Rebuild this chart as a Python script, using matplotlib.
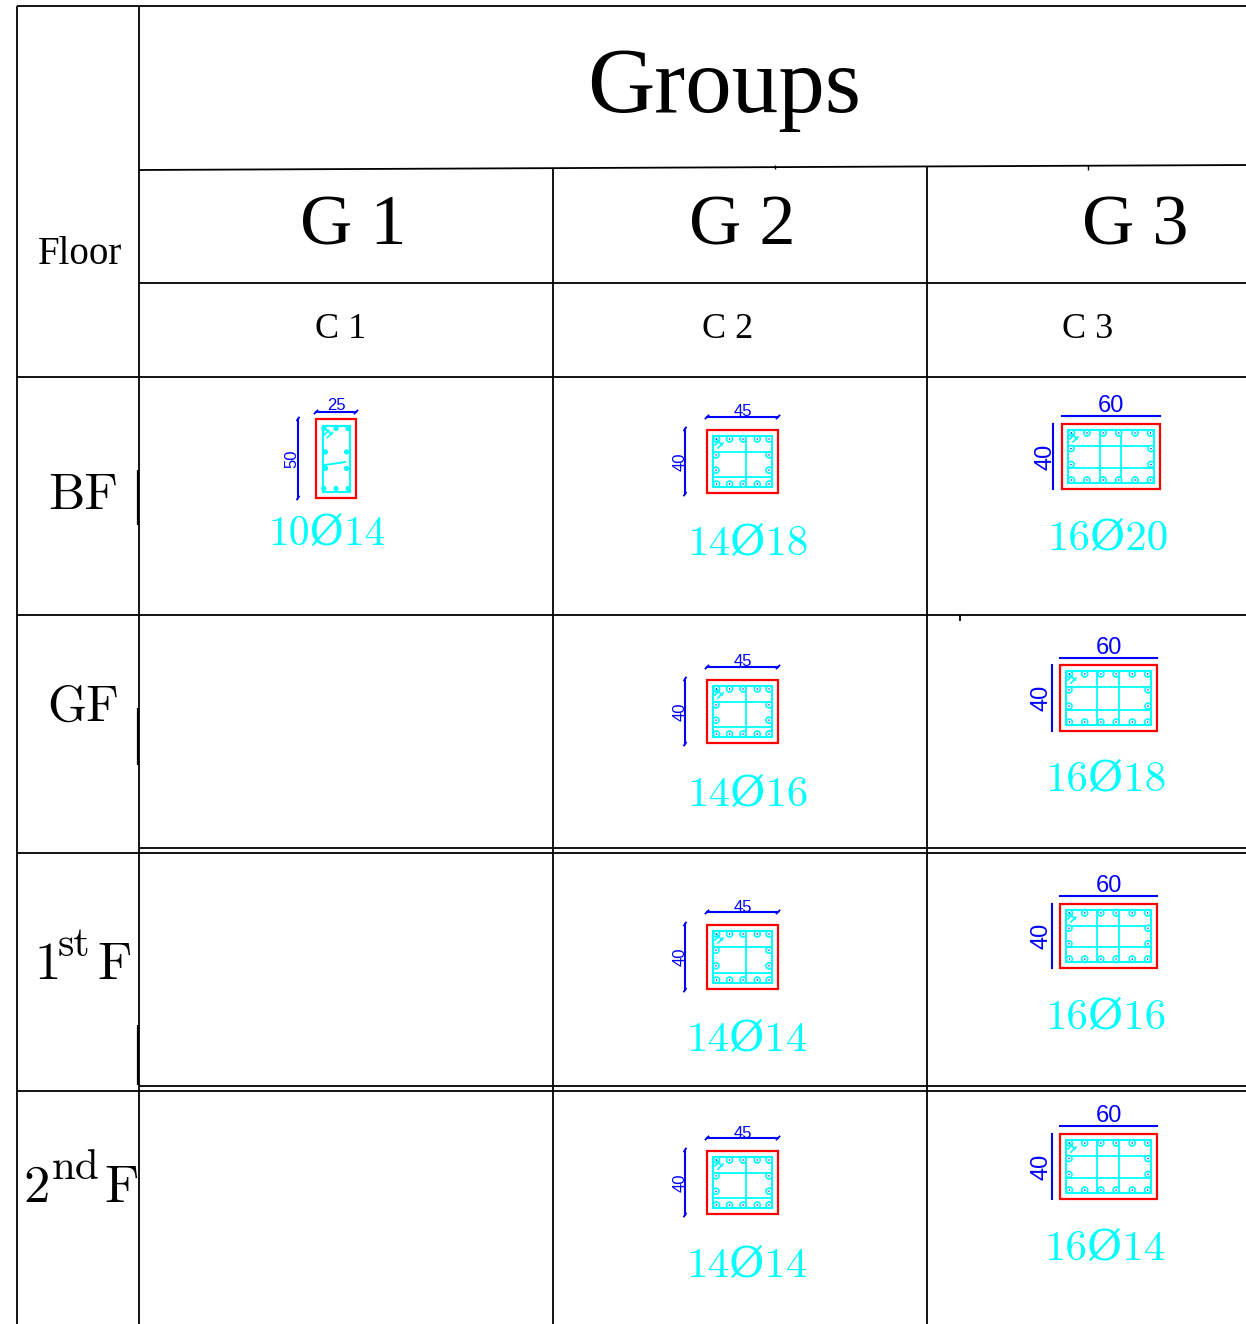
import matplotlib
matplotlib.use('Agg')
from matplotlib import pyplot as plt
from matplotlib.patches import Rectangle, Circle

# Table text
floors = ['BF', 'GF', '1', '2']
floorSup = ['', '', 'st', 'nd']
groups = ['G 1', 'G 2', 'G 3']
columns = ['C 1', 'C 2', 'C 3']

# Reinforcement labels
rebarC1 = ['10Ø14']
rebarC2 = ['14Ø18', '14Ø16', '14Ø14', '14Ø14']
rebarC3 = ['16Ø20', '16Ø18', '16Ø16', '16Ø14']

# Section sizes, cm
sizeC1 = (25, 50)
sizeC2 = (45, 40)
sizeC3 = (60, 40)

# Red outline of every section: left, top, right, bottom in image pixels
boxesC1 = [(316, 419, 356, 498)]
boxesC2 = [(707, 430, 778, 493), (707, 680, 778, 743), (707, 925, 778, 989), (707, 1151, 778, 1214)]
boxesC3 = [(1062, 424, 1160, 489), (1060, 665, 1157, 731), (1060, 904, 1157, 968), (1060, 1134, 1157, 1199)]
labelC2 = [(748, 544), (748, 795), (747, 1040), (747, 1266)]
labelC3 = [(1108, 539), (1106, 780), (1106, 1018), (1105, 1249)]

BLUE = '#0000ff'
CYAN = '#00ffff'
RED = '#ff0000'
SERIF = 'Liberation Serif'
ROMAN = ['cmr10', 'DejaVu Serif']

fig = plt.figure(figsize=(12.46, 13.24), dpi=100)
ax = fig.add_axes([0, 0, 1, 1])
ax.set_xlim(0, 1246)
ax.set_ylim(1324, 0)
ax.axis('off')


def Rule(x0, y0, x1, y1, lw=1.3):
    ax.plot([x0, x1], [y0, y1], color='black', lw=lw, solid_capstyle='butt')


# Grid of the table
Rule(17, 6, 1246, 6)
Rule(17, 6, 17, 1324)
Rule(139, 6, 139, 1324)
Rule(553, 168, 553, 1324)
Rule(927, 166, 927, 1324)
Rule(139, 170, 1246, 165)
Rule(139, 283, 1246, 283)
Rule(17, 377, 1246, 377)
Rule(17, 615, 927, 615)
Rule(927, 615, 1246, 615)
Rule(139, 848, 1246, 848)
Rule(17, 853, 1246, 853)
Rule(139, 1086, 1246, 1086)
Rule(17, 1091, 1246, 1091)

# Small scan leftovers on the rules
Rule(138, 470, 138, 525, lw=1.6)
Rule(138, 708, 138, 765, lw=1.6)
Rule(138, 1025, 138, 1085, lw=1.6)
Rule(960, 615, 960, 621, lw=1.3)
Rule(775, 165, 775, 169, lw=1)
Rule(1088, 165, 1088, 170, lw=1)

ax.text(724, 89, 'Groups', family=SERIF, fontsize=67, ha='center', va='center')
ax.text(80, 254, 'Floor', family=SERIF, fontsize=28, ha='center', va='center')
for name, x in zip(groups, [353, 742, 1135]):
    ax.text(x, 227, name, family=SERIF, fontsize=52, ha='center', va='center')
for name, x in zip(columns, [341, 728, 1088]):
    ax.text(x, 330, name, family=SERIF, fontsize=26, ha='center', va='center')

# Floor labels
ax.text(83, 509, floors[0], family=ROMAN, fontsize=37, ha='center', va='baseline')
ax.text(83, 721, floors[1], family=ROMAN, fontsize=36, ha='center', va='baseline')
ax.text(34, 979, floors[2], family=ROMAN, fontsize=38, ha='left', va='baseline')
ax.text(58, 956, floorSup[2], family=ROMAN, fontsize=30, ha='left', va='baseline')
ax.text(97, 979, 'F', family=ROMAN, fontsize=38, ha='left', va='baseline')
ax.text(23, 1202, floors[3], family=ROMAN, fontsize=38, ha='left', va='baseline')
ax.text(52, 1179, floorSup[3], family=ROMAN, fontsize=31, ha='left', va='baseline')
ax.text(104, 1202, 'F', family=ROMAN, fontsize=38, ha='left', va='baseline')


def Section(box, barsX, barsY, tiesX, tiesY, inset=6, radius=3.0, fill=False):
    left, top, right, bottom = box
    ax.add_patch(Rectangle((left, top), right - left, bottom - top, fill=False, ec=RED, lw=1.6, zorder=4))

    # Stirrups and bars
    l, t, r, b = left + inset, top + inset, right - inset, bottom - inset
    ax.add_patch(Rectangle((l, t), r - l, b - t, fill=False, ec=CYAN, lw=1.5, zorder=3))
    for f in tiesX:
        ax.plot([l + f * (r - l)] * 2, [t, b], color=CYAN, lw=1.3)
    for f in tiesY:
        ax.plot([l, r], [t + f * (b - t)] * 2, color=CYAN, lw=1.3)
    spots = [(l + f * (r - l), y) for f in barsX for y in (t + 3, b - 3)]
    spots += [(x, t + f * (b - t)) for f in barsY for x in (l + 3, r - 3)]
    for x, y in spots:
        ax.add_patch(Circle((x, y), radius, fc=CYAN if fill else 'white', ec=CYAN, lw=1.2, zorder=5))
        if not fill:
            ax.add_patch(Circle((x, y), 0.7, fc=BLUE, ec='none', zorder=6))
    # Hooks at the corner
    ax.plot([l + 3, l + 9], [t + 3, t + 9], color=CYAN, lw=1.2, zorder=5)
    ax.plot([l + 2, l + 6], [t + 9, t + 5], color=CYAN, lw=1.2, zorder=5)
    ax.plot([l + 5, l + 10], [t + 12, t + 7], color=CYAN, lw=1.2, zorder=5)


def Dimensions(box, size, topY, topTextY, sideX, sideTextX, fs, sideExtra=1, ticks=True):
    left, top, right, bottom = box
    ax.plot([left, right], [topY, topY], color=BLUE, lw=1.5)
    ax.plot([sideX, sideX], [top - sideExtra, bottom + sideExtra], color=BLUE, lw=1.5)
    if ticks:
        for x in (left, right):
            ax.plot([x - 1.5, x + 1.5], [topY + 1.5, topY - 1.5], color=BLUE, lw=1.3)
        for y in (top - sideExtra, bottom + sideExtra):
            ax.plot([sideX - 1, sideX + 1], [y + 1.5, y - 1.5], color=BLUE, lw=1.3)
    ax.text((left + right) / 2, topTextY, str(size[0]), color=BLUE, family='Liberation Sans', fontsize=fs, ha='center', va='center')
    ax.text(sideTextX, (top + bottom) / 2, str(size[1]), color=BLUE, family='Liberation Sans', fontsize=fs, rotation=90, ha='center', va='center')


# C 1
box = boxesC1[0]
Section(box, [0.05, 0.5, 0.95], [0.4, 0.65], [], [], inset=6.5, radius=1.8, fill=True)
ax.plot([325, 345], [465, 462], color=CYAN, lw=1.4, zorder=5)
Dimensions(box, sizeC1, 412, 406, 298, 292, 12, sideExtra=0)
ax.text(327, 534, rebarC1[0], color=CYAN, family=ROMAN, fontsize=30, ha='center', va='center')

# C 2
topY = [417, 667, 912, 1138]
topText = [412, 662, 907, 1133]
for i, box in enumerate(boxesC2):
    Section(box, [0.06, 0.28, 0.51, 0.75, 0.95], [0.37, 0.67], [0.56], [0.31, 0.81])
    Dimensions(box, sizeC2, topY[i], topText[i], 685, 680, 12)
    ax.text(labelC2[i][0], labelC2[i][1], rebarC2[i], color=CYAN, family=ROMAN, fontsize=31, ha='center', va='center')

# C 3
topY = [416, 658, 896, 1126]
topText = [406, 648, 886, 1116]
sideX = [1053, 1052, 1052, 1052]
sideText = [1045, 1042, 1042, 1042]
for i, box in enumerate(boxesC3):
    Section(box, [0.04, 0.22, 0.41, 0.59, 0.78, 0.96], [0.35, 0.65], [0.37, 0.62], [0.30, 0.72])
    Dimensions(box, sizeC3, topY[i], topText[i], sideX[i], sideText[i], 17, sideExtra=0, ticks=False)
    ax.text(labelC3[i][0], labelC3[i][1], rebarC3[i], color=CYAN, family=ROMAN, fontsize=31, ha='center', va='center')

fig.savefig('out.png', dpi=100)
